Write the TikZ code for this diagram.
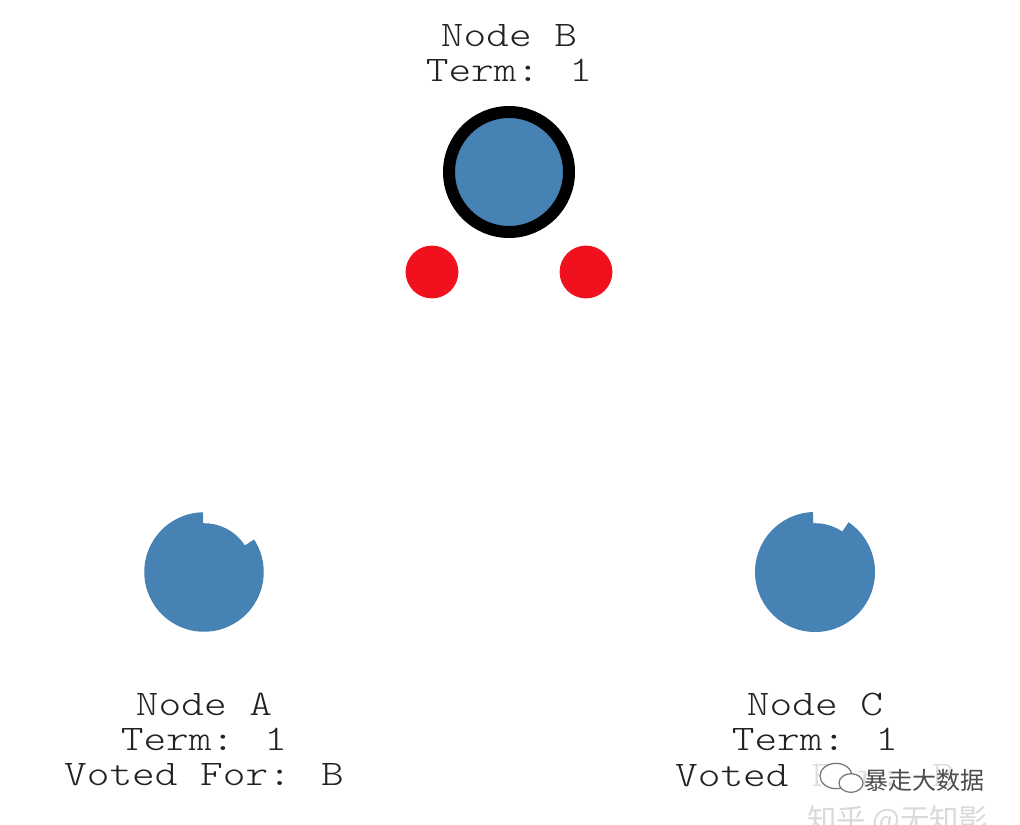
\documentclass[tikz,border=0pt]{standalone}
\usepackage{fontspec}
\newfontfamily\courlike[FakeStretch=1.2]{Latin Modern Mono Light}
\newfontfamily\cjk{Noto Sans CJK SC}
\definecolor{nodeblue}{HTML}{4682B4}
\definecolor{dotred}{HTML}{F0101E}
\definecolor{txt}{HTML}{222222}
\begin{document}
\begin{tikzpicture}[x=0.75pt,y=-0.75pt,
  lbl/.style={anchor=base, inner sep=0pt, text=txt, font=\courlike\fontsize{27}{27}\selectfont},
  leaderring/.style={draw=black, line width=9pt, fill=nodeblue},
  reddot/.style={fill=dotred},
  bluefill/.style={fill=nodeblue}]
\useasboundingbox (0,0) rectangle (1020,824);
\clip (0,0) rectangle (1020,824);
\fill[white] (0,0) rectangle (1020,824);

% Node B (leader)
\coordinate (B) at (509,172);
\draw[leaderring] (B) circle[radius=45pt];
\node[lbl] (B1) at (509,47) {Node B};
\node[lbl] (B2) at (509,82) {Term: 1};

% messages
\coordinate (m1) at (432,272);
\coordinate (m2) at (586,272);
\fill[reddot] (m1) circle[radius=19.8pt];
\fill[reddot] (m2) circle[radius=19.8pt];

% Node A
\coordinate (A) at (204,572);
\fill[bluefill] (A) circle[radius=36.6pt];
\fill[bluefill] (A) -- ++(91:44.8pt) arc[start angle=91, end angle=393, radius=44.8pt] -- cycle;
\node[lbl] (A1) at (204,715) {Node A};
\node[lbl] (A2) at (204,750) {Term: 1};
\node[lbl] (A3) at (204,785) {Voted For: B};

% Node C
\coordinate (C) at (815,572);
\fill[bluefill] (C) circle[radius=36.6pt];
\fill[bluefill] (C) -- ++(92:45pt) arc[start angle=92, end angle=416, radius=45pt] -- cycle;
\node[lbl] (C1) at (815,715) {Node C};
\node[lbl] (C2) at (815,750) {Term: 1};
\node[lbl] (C3) at (815,786) {Voted For: B};

% watermark
\fill[white, opacity=0.85] (800,758) rectangle (1000,800);
\node[anchor=base west, inner sep=0pt, text=black!15, font=\cjk\fontsize{22}{22}\selectfont] (wm2) at (807,830) {知乎 @无知影};
\draw[black!55, fill=white, line width=0.9pt] (836,776) ellipse[x radius=12pt, y radius=9.5pt];
\draw[black!55, fill=white, line width=0.9pt] (851,783) ellipse[x radius=9pt, y radius=7pt];
\node[anchor=base west, inner sep=0pt, text=black!70, font=\cjk\fontsize{18}{18}\selectfont] (wm1) at (864,789) {暴走大数据};
\end{tikzpicture}
\end{document}
